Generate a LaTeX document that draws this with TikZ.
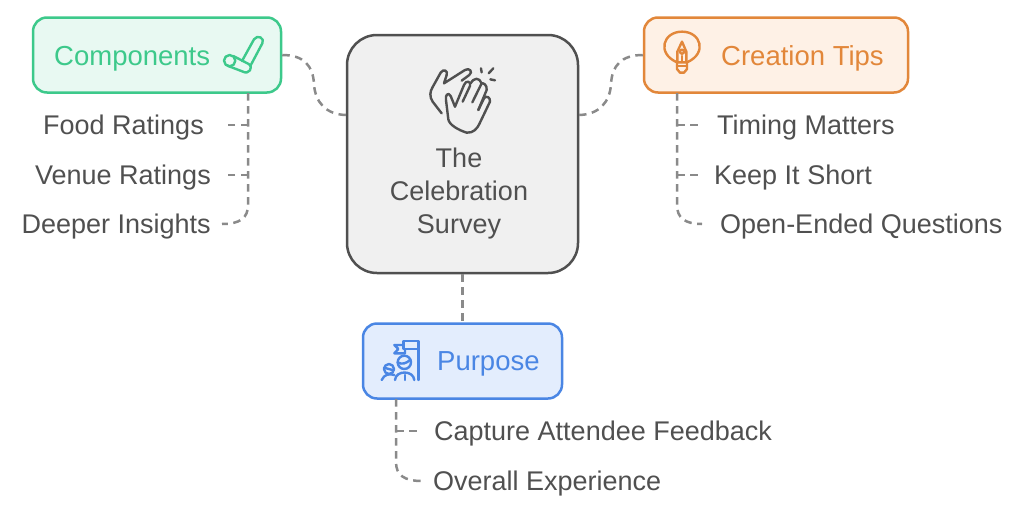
\documentclass[tikz,border=0pt]{standalone}
\usepackage{fontspec}
\setmainfont{Liberation Sans}
\usepackage{tikz}
\usetikzlibrary{positioning}

\definecolor{cgreen}{HTML}{3DC98B}
\definecolor{fgreen}{HTML}{E8F9F2}
\definecolor{corange}{HTML}{E2873A}
\definecolor{forange}{HTML}{FEF1E6}
\definecolor{cblue}{HTML}{4A86E4}
\definecolor{fblue}{HTML}{E3EDFD}
\definecolor{cgrey}{HTML}{505050}
\definecolor{fgrey}{HTML}{F0F0F0}
\definecolor{clink}{HTML}{8A8A8A}

\tikzset{
  box/.style   = {draw, line width=2.5pt, rounded corners=14pt, inner sep=0pt},
  item/.style  = {text=cgrey, font=\fontsize{27}{33}\selectfont, text height=19pt, text depth=0pt, inner ysep=0pt},
  head/.style  = {font=\fontsize{27.5}{33}\selectfont, text height=19pt, text depth=0pt, inner sep=0pt},
  link/.style  = {draw=clink, line width=2.5pt, dash pattern=on 7.5pt off 5.5pt},
  glyph/.style = {line width=2.4pt, line cap=round, line join=round},
}

\begin{document}
\begin{tikzpicture}[x=1pt, y=-1pt]

\useasboundingbox (0,0) rectangle (1024,514);

\node [box, draw=cgrey  , fill=fgrey  , rounded corners=30pt, minimum width=231pt, minimum height=238pt] (survey) at (462.5,154) {};
\node [box, draw=cgreen , fill=fgreen , minimum width=248pt, minimum height=75pt] (comp) at (157,55) {};
\node [box, draw=corange, fill=forange, minimum width=264pt, minimum height=75pt] (tips) at (776,55) {};
\node [box, draw=cblue  , fill=fblue  , minimum width=199pt, minimum height=75pt] (goal) at (462.5,361) {};

\node [head, text=cgreen , anchor=west] (compl) at (54,56)  {Components};
\node [head, text=corange, anchor=west] (tipsl) at (721,56) {Creation Tips};
\node [head, text=cblue  , anchor=west] (goall) at (437,361) {Purpose};
\node [text=cgrey, font=\fontsize{27}{33}\selectfont, align=center, inner sep=0pt] (surveyl) at (459,194) {The\\Celebration\\Survey};

\node [item, anchor=east, inner xsep=18pt] (food)   at (222,125) {Food Ratings};
\node [item, anchor=east, inner xsep=11pt] (venue)  at (222,175) {Venue Ratings};
\node [item, anchor=east, inner xsep=11pt] (deeper) at (222,224) {Deeper Insights};

\node [item, anchor=west, inner xsep=15pt] (timing) at (702,125) {Timing Matters};
\node [item, anchor=west, inner xsep=12pt] (short)  at (702,175) {Keep It Short};
\node [item, anchor=west, inner xsep=18pt] (open)   at (702,224) {Open-Ended Questions};

\node [item, anchor=west, inner xsep=12pt] (capture) at (422,431) {Capture Attendee Feedback};
\node [item, anchor=west, inner xsep=11pt] (overall) at (422,481) {Overall Experience};

\coordinate (surveyw) at (347,115);
\coordinate (surveye) at (578,115);
\coordinate (compj)   at (248,93);
\coordinate (foodj)   at (248,125);
\coordinate (venuej)  at (248,175);
\coordinate (tipsj)   at (677,93);
\coordinate (timingj) at (677,125);
\coordinate (shortj)  at (677,175);
\coordinate (goalj)   at (396,399);
\coordinate (capj)    at (396,431);

\path [link] (comp.east) .. controls (304,55) and (313,66) .. (314,84) .. controls (315,102) and (326,115) .. (surveyw);
\path [link] (tips.west) .. controls (621,55) and (612,66) .. (611,84) .. controls (610,102) and (599,115) .. (surveye);
\path [link] (survey.south) -- (goal.north);

\path [link] (compj) -- (248,205) .. controls (248,218) and (240,224) .. (deeper.east);
\path [link] (foodj)  -- (food.east);
\path [link] (venuej) -- (venue.east);

\path [link] (tipsj) -- (677,205) .. controls (677,218) and (685,224) .. (open.west);
\path [link] (timingj) -- (timing.west);
\path [link] (shortj)  -- (short.west);

\path [link] (goalj) -- (396,462) .. controls (396,475) and (404,481) .. (overall.west);
\path [link] (capj) -- (capture.west);

\begin{scope}[shift={(218,30)}, scale=0.3333, glyph, draw=cgreen]
\draw (72,93) -- (108,28) .. controls (118,12) and (142,25) .. (133,40) -- (97,108);
\draw (35,92) circle (17);
\draw (46,78) -- (92,102) .. controls (108,112) and (92,135) .. (75,125) -- (28,107);
\end{scope}

\begin{scope}[shift={(340,20)}, scale=0.3333, glyph, draw=cgrey]
\draw (305,280) -- (278,245) .. controls (268,230) and (270,215) .. (277,203) -- (302,158) .. controls (310,145) and (325,152) .. (320,165) -- (312,190) -- (375,150) .. controls (388,142) and (400,155) .. (388,165) -- (365,182);
\draw (345,260) -- (332,228) .. controls (325,215) and (315,225) .. (318,240) -- (325,298) .. controls (328,315) and (355,330) .. (380,338) .. controls (400,340) and (412,325) .. (418,312) -- (450,245) .. controls (452,232) and (438,225) .. (432,235) -- (415,270);
\draw (345,260) -- (372,195) .. controls (378,178) and (395,185) .. (390,198) -- (368,245);
\draw (397,247) -- (425,190) .. controls (418,172) and (402,172) .. (392,190);
\draw (415,270) -- (440,210) .. controls (442,195) and (430,188) .. (425,190);
\draw (423,145) -- (425,157);
\draw (460,145) -- (446,160);
\draw (451,178) -- (465,181);
\end{scope}

\begin{scope}[shift={(658,30)}, scale=0.3333, glyph, draw=corange]
\draw (57,97) .. controls (-5,70) and (15,5) .. (72,5) .. controls (129,5) and (149,70) .. (87,97);
\draw (57,97) -- (87,97) -- (87,117) -- (78,128) -- (66,128) -- (57,117) -- cycle;
\draw (57,108) -- (87,108);
\draw (58,95) -- (58,65) -- (72,35) -- (85,65) -- (85,95);
\draw (72,65) circle (6);
\draw (72,78) -- (72,95);
\end{scope}

\begin{scope}[shift={(375,335)}, scale=0.3333, glyph, draw=cblue]
\draw (130,135) -- (130,18) -- (85,18) -- (85,42) -- (130,42);
\draw (85,30) -- (58,30) -- (70,42) -- (58,55) -- (90,55) -- (90,42);
\draw (88,82) circle (20);
\draw (68,82) .. controls (80,90) and (95,85) .. (106,74);
\draw (60,135) .. controls (62,105) and (115,105) .. (118,135);
\draw (90,120) -- (90,135);
\draw (42,102) circle (15);
\draw (27,98) -- (56,106);
\draw (20,135) .. controls (28,118) and (42,115) .. (58,120);
\end{scope}

\end{tikzpicture}
\end{document}
